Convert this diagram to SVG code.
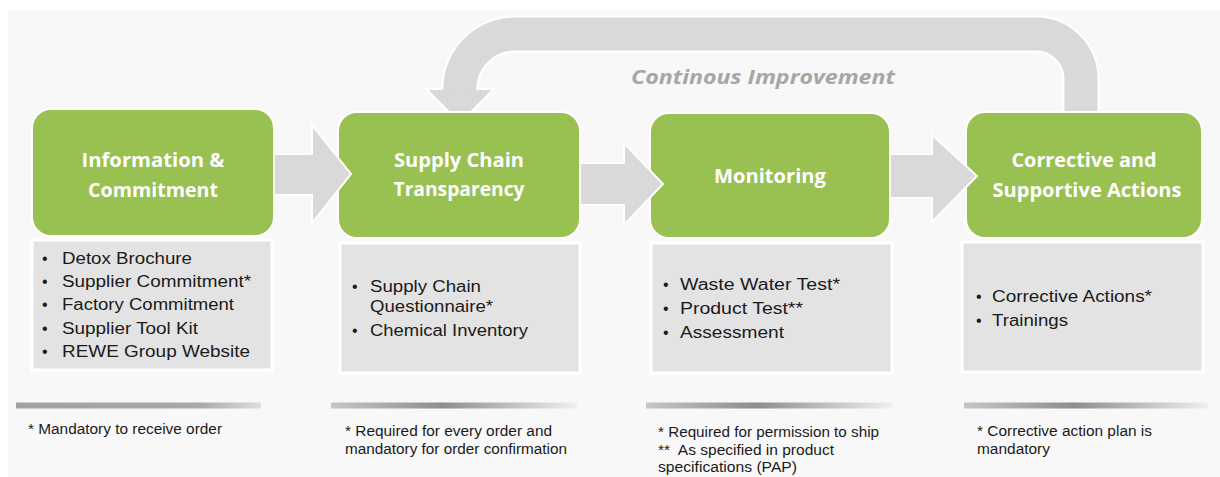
<svg xmlns="http://www.w3.org/2000/svg" width="1220" height="477" viewBox="0 0 1220 477">
  <defs>
    <linearGradient id="barA" x1="0" y1="0" x2="1" y2="0">
      <stop offset="0" stop-color="#a2a2a2"/>
      <stop offset="0.75" stop-color="#a9a9a9"/>
      <stop offset="1" stop-color="#dedede"/>
    </linearGradient>
    <linearGradient id="barB" x1="0" y1="0" x2="1" y2="0">
      <stop offset="0" stop-color="#c6c6c6"/>
      <stop offset="0.45" stop-color="#8e8e8e"/>
      <stop offset="1" stop-color="#f0f0f0"/>
    </linearGradient>
  </defs>
  <style>
    .green { fill: #98c152; stroke: #ffffff; stroke-width: 2; }
    .list { fill: #e3e3e3; stroke: #ffffff; stroke-width: 3; }
    .arrow { fill: #d9d9d9; stroke: #ffffff; stroke-width: 2; stroke-linejoin: miter; }
    .title { font-family: "Open Sans", "Noto Sans", sans-serif; font-weight: bold; font-size: 19.5px; fill: #ffffff; text-anchor: middle; }
    .item { font-family: "Liberation Sans", Arial, sans-serif; font-size: 16px; fill: #1a1a1a; }
    .note { font-family: "Liberation Sans", Arial, sans-serif; font-size: 14px; fill: #1a1a1a; }
    .ci { font-family: "Open Sans", "Noto Sans", sans-serif; font-weight: bold; font-style: italic; font-size: 19.5px; fill: #a6a6a6; }
  </style>

  <rect x="8" y="10" width="1212" height="467" fill="#f8f8f8"/>

  <!-- feedback loop arrow -->
  <g id="loop">
    <path d="M1081 111 V79 A45 45 0 0 0 1036 34 H515 A55 55 0 0 0 460 89" fill="none" stroke="#ffffff" stroke-width="37"/>
    <polygon class="arrow" points="426,89 494,89 460,123"/>
    <path d="M1081 111 V79 A45 45 0 0 0 1036 34 H515 A55 55 0 0 0 460 93" fill="none" stroke="#d9d9d9" stroke-width="33"/>
    <text class="ci" x="631" y="84" textLength="264" lengthAdjust="spacingAndGlyphs">Continous Improvement</text>
  </g>

  <g id="node1">
    <rect class="green" x="32" y="109" width="242" height="127" rx="19"/>
    <text class="title" x="153" y="167" textLength="143" lengthAdjust="spacingAndGlyphs">Information &amp;</text>
    <text class="title" x="153" y="197" textLength="130" lengthAdjust="spacingAndGlyphs">Commitment</text>
    <rect class="list" x="32" y="240" width="240" height="130"/>
    <text class="item" x="42" y="264">•</text>
    <text class="item" x="62" y="264" textLength="130" lengthAdjust="spacingAndGlyphs">Detox Brochure</text>
    <text class="item" x="42" y="287">•</text>
    <text class="item" x="62" y="287" textLength="189" lengthAdjust="spacingAndGlyphs">Supplier Commitment*</text>
    <text class="item" x="42" y="310">•</text>
    <text class="item" x="62" y="310" textLength="172" lengthAdjust="spacingAndGlyphs">Factory Commitment</text>
    <text class="item" x="42" y="334">•</text>
    <text class="item" x="62" y="334" textLength="136" lengthAdjust="spacingAndGlyphs">Supplier Tool Kit</text>
    <text class="item" x="42" y="357">•</text>
    <text class="item" x="62" y="357" textLength="188" lengthAdjust="spacingAndGlyphs">REWE Group Website</text>
    <rect x="16" y="402.5" width="245" height="6" fill="url(#barA)"/>
    <text class="note" x="28" y="434" textLength="194" lengthAdjust="spacingAndGlyphs">* Mandatory to receive order</text>
  </g>

  <g id="node2">
    <rect class="green" x="338" y="112" width="242" height="126" rx="19"/>
    <text class="title" x="459" y="167" textLength="130" lengthAdjust="spacingAndGlyphs">Supply Chain</text>
    <text class="title" x="459" y="196" textLength="131" lengthAdjust="spacingAndGlyphs">Transparency</text>
    <rect class="list" x="340" y="243" width="240" height="130"/>
    <text class="item" x="352" y="292">•</text>
    <text class="item" x="370" y="292" textLength="111" lengthAdjust="spacingAndGlyphs">Supply Chain</text>
    <text class="item" x="370" y="312" textLength="123" lengthAdjust="spacingAndGlyphs">Questionnaire*</text>
    <text class="item" x="352" y="336">•</text>
    <text class="item" x="370" y="336" textLength="158" lengthAdjust="spacingAndGlyphs">Chemical Inventory</text>
    <rect x="331" y="402.5" width="246" height="6" fill="url(#barB)"/>
    <text class="note" x="345" y="435.5" textLength="207" lengthAdjust="spacingAndGlyphs">* Required for every order and</text>
    <text class="note" x="345" y="453.5" textLength="222" lengthAdjust="spacingAndGlyphs">mandatory for order confirmation</text>
  </g>

  <g id="node3">
    <rect class="green" x="650" y="113" width="240" height="125" rx="19"/>
    <text class="title" x="770" y="182.5" textLength="112" lengthAdjust="spacingAndGlyphs">Monitoring</text>
    <rect class="list" x="651" y="243" width="241" height="130"/>
    <text class="item" x="663" y="290">•</text>
    <text class="item" x="680" y="290" textLength="160" lengthAdjust="spacingAndGlyphs">Waste Water Test*</text>
    <text class="item" x="663" y="314">•</text>
    <text class="item" x="680" y="314" textLength="123" lengthAdjust="spacingAndGlyphs">Product Test**</text>
    <text class="item" x="663" y="338">•</text>
    <text class="item" x="680" y="338" textLength="104" lengthAdjust="spacingAndGlyphs">Assessment</text>
    <rect x="646" y="402.5" width="246" height="6" fill="url(#barB)"/>
    <text class="note" x="658" y="437" textLength="221" lengthAdjust="spacingAndGlyphs">* Required for permission to ship</text>
    <text class="note" x="658" y="455" textLength="176" lengthAdjust="spacingAndGlyphs" xml:space="preserve">**  As specified in product</text>
    <text class="note" x="658" y="472" textLength="139" lengthAdjust="spacingAndGlyphs">specifications (PAP)</text>
  </g>

  <g id="node4">
    <rect class="green" x="966" y="112" width="236" height="126" rx="19"/>
    <text class="title" x="1084" y="167" textLength="145" lengthAdjust="spacingAndGlyphs">Corrective and</text>
    <text class="title" x="1087" y="197" textLength="189" lengthAdjust="spacingAndGlyphs">Supportive Actions</text>
    <rect class="list" x="962" y="242" width="241" height="130"/>
    <text class="item" x="976" y="302">•</text>
    <text class="item" x="992" y="302" textLength="160" lengthAdjust="spacingAndGlyphs">Corrective Actions*</text>
    <text class="item" x="976" y="326">•</text>
    <text class="item" x="992" y="326" textLength="76" lengthAdjust="spacingAndGlyphs">Trainings</text>
    <rect x="964" y="402.5" width="244" height="6" fill="url(#barB)"/>
    <text class="note" x="977" y="435.5" textLength="175" lengthAdjust="spacingAndGlyphs">* Corrective action plan is</text>
    <text class="note" x="977" y="453.5" textLength="73" lengthAdjust="spacingAndGlyphs">mandatory</text>
  </g>

  <g id="connectors">
    <polygon class="arrow" points="274,154 312,154 312,125 351,174 312,223 312,195 274,195"/>
    <polygon class="arrow" points="580,163 624,163 624,143 663,184 624,225 624,205 580,205"/>
    <polygon class="arrow" points="890,154 932,154 932,135 977,176 932,222 932,198 890,198"/>
  </g>
</svg>
